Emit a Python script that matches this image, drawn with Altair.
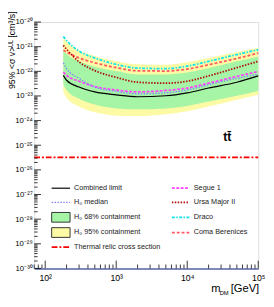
import altair as alt
import pandas as pd

# ---- data (m_DM in GeV, <sigma v> in cm^3/s) ----
mass = [180, 200, 300, 500, 1000, 2000, 5000, 10000, 20000, 50000, 100000]
combined = [6.84e-23, 4.35e-23, 2.30e-23, 1.46e-23, 1.11e-23, 9.31e-24, 1.02e-23, 1.34e-23, 2.10e-23, 3.62e-23, 6.53e-23]
h0_median = [2.22e-22, 1.29e-22, 5.21e-23, 2.30e-23, 1.53e-23, 1.22e-23, 1.34e-23, 1.75e-23, 2.89e-23, 5.21e-23, 7.48e-23]
green_hi = [7.21e-22, 5.02e-22, 2.55e-22, 1.55e-22, 1.03e-22, 7.48e-23, 7.48e-23, 8.97e-23, 1.35e-22, 2.55e-22, 4.00e-22]
green_lo = [3.02e-23, 1.75e-23, 7.76e-24, 4.51e-24, 3.13e-24, 2.86e-24, 3.13e-24, 3.93e-24, 5.92e-24, 1.02e-23, 1.60e-23]
yellow_hi = [2.344e-21, 1.633e-21, 7.21e-22, 4.19e-22, 2.59e-22, 1.94e-22, 1.85e-22, 2.32e-22, 3.49e-22, 6.03e-22, 9.06e-22]
yellow_lo = [1.46e-23, 8.49e-24, 3.76e-24, 2.18e-24, 1.59e-24, 1.52e-24, 1.82e-24, 2.39e-24, 3.76e-24, 7.08e-24, 1.11e-23]
segue1 = [9.23e-23, 6.84e-23, 3.96e-23, 2.41e-23, 1.75e-23, 1.46e-23, 1.67e-23, 2.10e-23, 3.31e-23, 6.24e-23, 9.82e-23]
ursa_major2 = [1.135e-21, 7.91e-22, 2.43e-22, 1.07e-22, 5.70e-23, 3.62e-23, 3.31e-23, 3.96e-23, 6.53e-23, 1.41e-22, 2.55e-22]
draco = [2.565e-21, 1.786e-21, 6.59e-22, 3.49e-22, 1.91e-22, 1.35e-22, 1.29e-22, 1.62e-22, 2.55e-22, 4.80e-22, 7.55e-22]
coma_ber = [7.21e-22, 6.03e-22, 3.49e-22, 2.22e-22, 1.41e-22, 1.05e-22, 1.03e-22, 1.23e-22, 1.85e-22, 3.34e-22, 5.50e-22]
thermal_mass = [70, 100000]
thermal_xsec = [3.22e-26, 3.22e-26]

x_major = [100, 1000, 10000, 100000]
x_minor = [70, 80, 90] + [k * 10 ** d for d in (2, 3, 4) for k in range(2, 10)]
y_major = [10.0 ** -k for k in range(20, 31)]
y_minor = [k * 10.0 ** -d for d in range(21, 31) for k in range(2, 10)]

legend_left = ["Combined limit", "H\u2080 median", "H\u2080 68% containment",
               "H\u2080 95% containment", "Thermal relic cross section"]
legend_right = ["Segue 1", "Ursa Major II", "Draco", "Coma Berenices"]

W, H = 231, 254
FONT = "Liberation Sans"
xscale = alt.Scale(type="log", domain=[70, 100000], nice=False)
yscale = alt.Scale(type="log", domain=[1e-30, 1e-20], nice=False)

GREEN = "#a6f5a6"
YELLOW = "#fdfaa5"
STY = {
    "comb": dict(color="black", strokeWidth=1.2),
    "med": dict(color="#7f7fff", strokeWidth=1.3, strokeDash=[1.5, 1.5]),
    "thermal": dict(color="#ff0000", strokeWidth=1.8, strokeDash=[6, 2, 2, 2]),
    "segue": dict(color="#ff44ff", strokeWidth=1.8, strokeDash=[3, 1.5]),
    "uma": dict(color="#b00a0a", strokeWidth=1.8, strokeDash=[1.5, 1.5]),
    "draco": dict(color="#10e4ee", strokeWidth=1.8, strokeDash=[3, 1.5, 1.5, 1.5]),
    "coma": dict(color="#ff5a62", strokeWidth=1.8, strokeDash=[3, 2]),
}

SUP = "'\u2070\u00b9\u00b2\u00b3\u2074\u2075\u2076\u2077\u2078\u2079'"
EX = "round(log(datum.value)/LN10)"
xsup = f"'10' + substring({SUP}, {EX}, {EX}+1)"
EY = "round(-log(datum.value)/LN10)"
ysup = f"'10\u207b' + substring({SUP}, floor({EY}/10), floor({EY}/10)+1) + substring({SUP}, {EY}%10, {EY}%10+1)"

x_axis = alt.Axis(values=x_major, labelExpr=xsup, ticks=False, grid=False, domain=True,
                  domainColor="#5868a8", domainWidth=1.6, labelFont=FONT, labelFontSize=9,
                  labelColor="black", labelPadding=5, labelFlush=False, labelOverlap=False, title=None)
y_axis = alt.Axis(values=y_major, labelExpr=ysup, ticks=False, grid=False, domain=False,
                  labelFont=FONT, labelFontSize=8, labelColor="black", labelPadding=2,
                  labelFlush=False, labelOverlap=False, title=None)


def X(field):
    return alt.X(field, scale=xscale, axis=x_axis)


def Y(field):
    return alt.Y(field, scale=yscale, axis=y_axis)


band_df = pd.DataFrame({"m": mass, "ylo": yellow_lo, "yhi": yellow_hi, "glo": green_lo, "ghi": green_hi})
yellow = alt.Chart(band_df).mark_area(color=YELLOW, opacity=1, interpolate="monotone").encode(
    x=X("m:Q"), y=Y("ylo:Q"), y2="yhi:Q")
green = alt.Chart(band_df).mark_area(color=GREEN, opacity=1, interpolate="monotone").encode(
    x=X("m:Q"), y=Y("glo:Q"), y2="ghi:Q")


def curve(xs, vals, key):
    df = pd.DataFrame({"m": xs, "v": vals})
    return alt.Chart(df).mark_line(interpolate="monotone", **STY[key]).encode(
        x=X("m:Q"), y=Y("v:Q"))


lines = [
    curve(thermal_mass, thermal_xsec, "thermal"),
    curve(mass, draco, "draco"),
    curve(mass, coma_ber, "coma"),
    curve(mass, ursa_major2, "uma"),
    curve(mass, segue1, "segue"),
    curve(mass, h0_median, "med"),
    curve(mass, combined, "comb"),
]


# inward ticks
def yticks(vals, length):
    return alt.Chart(pd.DataFrame({"v": vals})).mark_rule(color="black", strokeWidth=0.8).encode(
        y=Y("v:Q"), x=alt.value(0), x2=alt.value(length))


def xticks(vals, length):
    return alt.Chart(pd.DataFrame({"v": vals})).mark_rule(color="black", strokeWidth=0.8).encode(
        x=X("v:Q"), y=alt.value(H), y2=alt.value(H - length))


ticks = [yticks(y_major, 7), yticks(y_minor, 3.5), xticks(x_major, 8), xticks(x_minor, 4)]

# legend
rows_l = [171.3, 186, 201.3, 217, 232]
rows_r = [171.3, 186, 201.3, 217]


def swatch(x0, x1, yy, key):
    return alt.Chart(pd.DataFrame({"a": [0]})).mark_rule(**STY[key]).encode(
        x=alt.value(x0), x2=alt.value(x1), y=alt.value(yy))


def box(yy, fill):
    return alt.Chart(pd.DataFrame({"a": [0]})).mark_rect(fill=fill, stroke="#333333", strokeWidth=1).encode(
        x=alt.value(18), x2=alt.value(37), y=alt.value(yy - 5), y2=alt.value(yy + 5))


legend = [
    swatch(18, 37, rows_l[0], "comb"),
    swatch(18, 37, rows_l[1], "med"),
    box(rows_l[2], GREEN),
    box(rows_l[3], YELLOW),
    swatch(18, 37, rows_l[4], "thermal"),
    swatch(142, 160, rows_r[0], "segue"),
    swatch(142, 160, rows_r[1], "uma"),
    swatch(142, 160, rows_r[2], "draco"),
    swatch(142, 160, rows_r[3], "coma"),
]
ltext = alt.Chart(pd.DataFrame({"t": legend_left, "py": rows_l})).mark_text(
    align="left", baseline="middle", font=FONT, fontSize=7.5, color="#222222").encode(
    x=alt.value(41), y=alt.Y("py:Q", scale=None, axis=None), text="t:N")
rtext = alt.Chart(pd.DataFrame({"t": legend_right, "py": rows_r})).mark_text(
    align="left", baseline="middle", font=FONT, fontSize=7.5, color="#222222").encode(
    x=alt.value(164.5), y=alt.Y("py:Q", scale=None, axis=None), text="t:N")


def label(txt, x, y, **kw):
    return alt.Chart(pd.DataFrame({"t": [txt]})).mark_text(font=FONT, color="black", **kw).encode(
        x=alt.value(x), y=alt.value(y), text="t:N")


texts = [
    label("tt\u0304", 199, 119, fontSize=12.5, fontWeight="bold", align="center", baseline="middle"),
    label("95% <\u03c3 v>\u1d41\u1d38 [cm\u00b3/s]", -26.8, -11, fontSize=9, angle=270, align="right", baseline="top"),
    label("[GeV]", 232, 278, fontSize=11.5, align="right", baseline="alphabetic"),
    label("DM", 200.5, 281, fontSize=6, align="right", baseline="alphabetic"),
    label("m", 192, 278, fontSize=11.5, align="right", baseline="alphabetic"),
]

chart = alt.layer(yellow, green, *lines, *ticks, *legend, ltext, rtext, *texts).properties(
    width=W, height=H,
    autosize=alt.AutoSizeParams(type="none"),
    padding={"left": 27, "top": 10, "right": 8, "bottom": 26},
).configure_view(stroke="black", strokeWidth=1).configure(background="white")

chart.save("out.html", embed_options={"renderer": "svg", "actions": False})
